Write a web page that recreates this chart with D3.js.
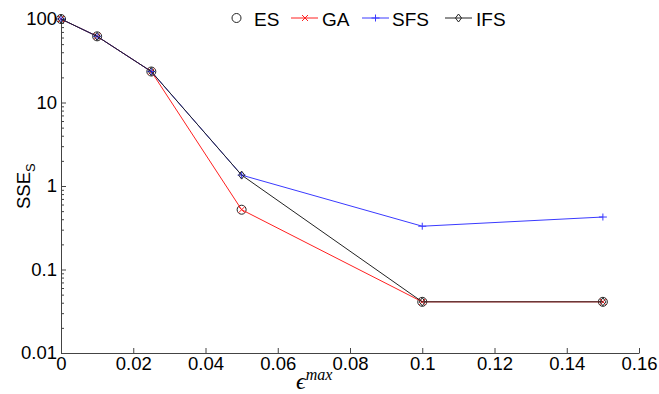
<!DOCTYPE html>
<html>
<head>
<meta charset="utf-8">
<script src="https://cdn.jsdelivr.net/npm/d3@7"></script>
<style>
  body { margin: 0; background: #fff; }
  svg text { font-family: "Liberation Sans", Arial, sans-serif; }
</style>
</head>
<body>
<div id="chart"></div>
<script>
let eps = [0, 0.01, 0.025, 0.05, 0.1, 0.15]
let es_vals = [100, 62, 23.5, 0.52, 0.041, 0.041]
let ga_vals = [100, 62, 23.5, 0.52, 0.041, 0.041]
let sfs_vals = [100, 62, 23.5, 1.35, 0.33, 0.425]
let ifs_vals = [100, 62, 23.5, 1.35, 0.041, 0.041]

let x_ticks = [0, 0.02, 0.04, 0.06, 0.08, 0.1, 0.12, 0.14, 0.16]
let y_ticks = [0.01, 0.1, 1, 10, 100]
let y_tick_labels = ["0.01", "0.1", "1", "10", "100"]

let w = 659, h = 394
let axis_color = "#444"

let svg = d3.select("#chart").append("svg")
    .attr("width", w)
    .attr("height", h)

let x = d3.scaleLinear().domain([0, 0.16]).range([61, 639])
let y = d3.scaleLog().domain([0.01, 100]).range([353, 19])

// minor ticks on the log axis
let minor = []
y_ticks.slice(0, -1).forEach(t => {
    for (let k = 2; k <= 9; k++) minor.push(t * k)
})

svg.append("g")
    .attr("transform", `translate(${x(0)},0)`)
    .call(d3.axisLeft(y).tickValues(minor).tickSize(-3).tickFormat(""))
    .call(g => g.select(".domain").remove())
    .call(g => g.selectAll("line").attr("stroke", axis_color))

svg.append("g")
    .attr("transform", `translate(${x(0)},0)`)
    .call(d3.axisLeft(y).tickValues(y_ticks).tickSizeInner(-5).tickSizeOuter(0).tickPadding(4)
        .tickFormat((d, i) => y_tick_labels[i]))
    .call(g => g.select(".domain").attr("stroke", axis_color))
    .call(g => g.selectAll("line").attr("stroke", axis_color))
    .call(g => g.selectAll("text").attr("font-size", 18.5).attr("fill", "#000")
        .attr("font-family", "Liberation Sans, Arial, sans-serif"))

svg.append("g")
    .attr("transform", `translate(0,${y(0.01)})`)
    .call(d3.axisBottom(x).tickValues(x_ticks).tickSizeInner(-5).tickSizeOuter(0).tickPadding(4)
        .tickFormat(d => d3.format("")(+d.toFixed(2))))
    .call(g => g.select(".domain").attr("stroke", axis_color))
    .call(g => g.selectAll("line").attr("stroke", axis_color))
    .call(g => g.selectAll("text").attr("font-size", 18.5).attr("fill", "#000")
        .attr("font-family", "Liberation Sans, Arial, sans-serif"))

let line = d3.line().x(d => x(d[0])).y(d => y(d[1]))

function pts(vals) { return eps.map((e, i) => [e, vals[i]]) }

function marker(g, type, color, cx, cy) {
    if (type == "circle") {
        g.append("circle").attr("cx", cx).attr("cy", cy).attr("r", 4.5)
            .attr("fill", "none").attr("stroke", color).attr("stroke-width", 1)
    } else if (type == "x") {
        g.append("path").attr("d", `M${cx-3},${cy-3}L${cx+3},${cy+3}M${cx-3},${cy+3}L${cx+3},${cy-3}`)
            .attr("stroke", color).attr("stroke-width", 1)
    } else if (type == "plus") {
        g.append("path").attr("d", `M${cx-4},${cy}L${cx+4},${cy}M${cx},${cy-3.5}L${cx},${cy+3.5}`)
            .attr("stroke", color).attr("stroke-width", 1)
    } else if (type == "diamond") {
        g.append("path").attr("d", `M${cx},${cy-4}L${cx+3},${cy}L${cx},${cy+4}L${cx-3},${cy}Z`)
            .attr("fill", "none").attr("stroke", color).attr("stroke-width", 1)
    }
}

let series = [
    {name: "ES", vals: es_vals, color: "#222", marker: "circle", line: false},
    {name: "GA", vals: ga_vals, color: "#ff2020", marker: "x", line: true},
    {name: "SFS", vals: sfs_vals, color: "#3a3aff", marker: "plus", line: true},
    {name: "IFS", vals: ifs_vals, color: "#222", marker: "diamond", line: true}
]

series.forEach(s => {
    let g = svg.append("g")
    if (s.line) {
        g.append("path").datum(pts(s.vals)).attr("d", line)
            .attr("fill", "none").attr("stroke", s.color).attr("stroke-width", 1)
    }
    pts(s.vals).forEach(p => marker(g, s.marker, s.color, x(p[0]), y(p[1])))
})

// legend
let leg_items = [
    {s: series[0], x0: null, mx: 236.5, tx: 254},
    {s: series[1], x0: 291, mx: 305, tx: 322},
    {s: series[2], x0: 362, mx: 375.5, tx: 392},
    {s: series[3], x0: 445, mx: 458.5, tx: 476}
]
let lg = svg.append("g")
leg_items.forEach(it => {
    let ly = 18
    if (it.s.line) {
        lg.append("line").attr("x1", it.x0).attr("x2", it.x0 + 27).attr("y1", ly).attr("y2", ly)
            .attr("stroke", it.s.color).attr("stroke-width", 1)
    }
    marker(lg, it.s.marker, it.s.color, it.mx, ly)
    lg.append("text").attr("x", it.tx).attr("y", ly + 8)
        .attr("font-size", 19).text(it.s.name)
})

// axis labels
let yl = svg.append("text")
    .attr("transform", "translate(30,209) rotate(-90)")
    .attr("font-size", 18.5)
yl.append("tspan").text("SSE")
yl.append("tspan").attr("font-size", 13).attr("dy", 5).text("S")

let xl = svg.append("text")
    .attr("x", 296).attr("y", 389)
xl.append("tspan").attr("font-family", "Liberation Serif, Times New Roman, serif")
    .attr("font-style", "italic").attr("font-size", 24).text("\u03f5")
xl.append("tspan").attr("font-family", "Liberation Serif, Times New Roman, serif")
    .attr("font-style", "italic").attr("font-size", 16).attr("dy", -9).text("max")
</script>
</body>
</html>
